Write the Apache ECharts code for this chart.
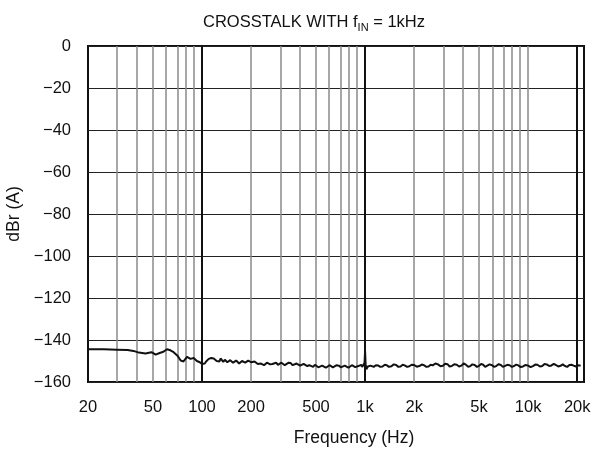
<!DOCTYPE html>
<html>
<head>
<meta charset="utf-8">
<script src="https://cdn.jsdelivr.net/npm/echarts@6/dist/echarts.min.js"></script>
<style>
html,body{margin:0;padding:0;background:#fff;}
#chart{width:591px;height:450px;}
</style>
</head>
<body>
<div id="chart"></div>
<script>
// Frequency (Hz) of trace samples
var freqHz = [20, 25, 30, 35, 38, 41, 45, 49, 52, 55, 58, 61, 64, 67, 71, 74, 77, 81, 85, 89, 93, 97,
  100, 102, 104, 106, 108, 110, 112, 114, 116, 118, 120, 123, 125, 128, 130, 133, 135, 138, 140, 143, 146, 149, 152, 155, 158, 162, 165, 169, 172, 176, 180, 184, 188, 192, 196,
  200, 205, 210, 215, 220, 225, 230, 235, 240, 245, 250, 255, 262, 270, 277, 285, 292, 300, 307, 315, 322, 330, 340, 350, 360, 370, 380, 390, 400, 410, 420, 430, 442, 455, 467, 480, 492,
  505, 517, 530, 545, 560, 575, 590, 605, 620, 635, 650, 670, 690, 710, 730, 750, 770, 790, 810, 830, 850, 870, 890, 910, 930, 945, 960, 975, 985, 992, 1000, 1008,
  1018, 1040, 1060, 1080, 1105, 1130, 1165, 1200, 1240, 1280, 1320, 1360, 1400, 1450, 1500, 1550, 1600, 1650, 1700, 1750, 1810, 1870, 1930, 2000, 2075, 2150, 2225, 2300,
  2375, 2450, 2525, 2600, 2700, 2800, 2900, 3000, 3100, 3200, 3300, 3400, 3520, 3650, 3770, 3900, 4020, 4150, 4270, 4400, 4550, 4700, 4850, 5000, 5150, 5300, 5450, 5600, 5800, 6000,
  6200, 6400, 6600, 6800, 7000, 7200, 7450, 7700, 7950, 8200, 8450, 8700, 9000, 9300, 9650, 10000, 10350, 10700, 11050, 11400, 11800, 12200, 12600, 13000, 13450, 13900, 14350, 14800,
  15300, 15800, 16300, 16800, 17350, 17900, 18450, 19000, 19600, 20200, 21000];
// Crosstalk level dBr (A)
var crosstalkDb = [-144.4, -144.4, -144.6, -144.8, -145.2, -146.0, -146.4, -145.8, -147.0, -146.2, -145.6, -144.4, -144.9, -145.8, -147.6, -149.8, -150.2, -148.0, -149.0, -148.6, -150.0, -150.6,
  -151.4, -150.6, -151.2, -150.2, -149.8, -149.0, -148.2, -148.6, -147.8, -148.8, -149.2, -150.0, -149.6, -150.2, -148.8, -149.6, -150.4, -149.4, -149.6, -150.6, -150.6, -149.6, -149.8, -150.8, -150.8, -149.8, -150.2, -151.2, -151.0, -150.0, -149.9, -150.8, -150.8, -149.8, -150.2,
  -150.6, -151.2, -150.2, -150.4, -151.4, -152.2, -151.2, -151.0, -152.0, -151.8, -150.8, -150.6, -151.6, -151.4, -150.6, -150.8, -151.8, -151.6, -150.8, -150.9, -152.0, -151.8, -150.8, -151.0, -152.0, -152.0, -151.2, -151.4, -152.2, -152.4, -151.4, -151.6, -152.4, -152.0, -152.6, -152.8, -151.8,
  -152.2, -153.0, -153.0, -152.2, -152.3, -153.2, -152.8, -152.0, -152.0, -153.0, -152.8, -152.0, -152.2, -153.0, -153.2, -152.2, -152.4, -153.2, -152.9, -152.0, -152.0, -152.9, -153.4, -152.4, -152.2, -151.8, -152.8, -153.4, -153.6, -151.0, -145.3, -151.5,
  -154.0, -152.6, -151.8, -152.2, -153.0, -152.8, -152.0, -152.1, -152.8, -152.6, -151.8, -152.0, -152.8, -152.5, -151.6, -151.9, -152.8, -152.6, -151.8, -152.1, -152.8, -152.5, -151.8, -151.9, -152.7, -152.4, -151.7, -152.0,
  -152.8, -152.6, -151.8, -152.1, -151.2, -151.6, -152.5, -152.3, -151.3, -151.5, -152.6, -152.4, -151.6, -151.8, -152.6, -152.2, -151.2, -151.7, -152.7, -152.5, -151.6, -151.9, -152.8, -152.3, -151.4, -151.8, -152.8, -152.4, -151.6, -152.0,
  -152.8, -152.3, -151.5, -151.9, -152.8, -152.5, -151.8, -152.0, -152.8, -152.4, -151.7, -152.1, -152.9, -152.6, -151.9, -152.2, -152.9, -152.4, -151.7, -151.8, -152.6, -152.4, -151.4, -151.6, -152.4, -152.1, -151.4, -151.9,
  -152.6, -152.3, -151.6, -152.4, -152.8, -151.9, -151.8, -152.2, -152.6, -152.0, -152.2];

var xTickValues = [20, 50, 100, 200, 500, 1000, 2000, 5000, 10000, 20000];
var xTickLabels = ['20', '50', '100', '200', '500', '1k', '2k', '5k', '10k', '20k'];
var minorGridHz = [30, 40, 50, 60, 70, 80, 90, 200, 300, 400, 500, 600, 700, 800, 900, 2000, 3000, 4000, 5000, 6000, 7000, 8000, 9000, 10000];
var majorGridHz = [100, 1000, 20000];

var L = Math.log10;
var seriesData = freqHz.map(function (f, i) { return [L(f), crosstalkDb[i]]; });
var labelMap = {};
xTickValues.forEach(function (v, i) { labelMap[L(v).toFixed(6)] = xTickLabels[i]; });

var gridLines = [];
minorGridHz.forEach(function (f) {
  gridLines.push({ xAxis: L(f), lineStyle: { color: '#8a8a8a', width: 1.5, type: 'solid' } });
});
majorGridHz.forEach(function (f) {
  gridLines.push({ xAxis: L(f), lineStyle: { color: '#111', width: 2, type: 'solid' } });
});

var font = '"Liberation Sans", Arial, Helvetica, sans-serif';
var chart = echarts.init(document.getElementById('chart'), null, { renderer: 'canvas' });
chart.setOption({
  animation: false,
  backgroundColor: '#fff',
  title: {
    text: '{a|CROSSTALK WITH f}{s|IN}{a| = 1kHz}',
    left: 309, top: 7, textAlign: 'center',
    textStyle: {
      fontWeight: 'normal',
      rich: {
        a: { fontFamily: font, fontSize: 16.5, color: '#111', fontWeight: 'normal' },
        s: { fontFamily: font, fontSize: 11, color: '#111', fontWeight: 'normal', padding: [10, 0, 0, 0] }
      }
    }
  },
  grid: { left: 88, right: 7, top: 46, bottom: 68, containLabel: false, outerBoundsMode: 'none', show: true, borderColor: '#111', borderWidth: 2, backgroundColor: 'transparent' },
  xAxis: {
    type: 'value',
    min: L(20), max: L(22000),
    name: 'Frequency (Hz)', nameLocation: 'middle', nameGap: 47,
    nameTextStyle: { fontFamily: font, fontSize: 17.5, color: '#111', padding: [0, 0, 0, 36] },
    axisLine: { show: false },
    axisTick: { show: false },
    splitLine: { show: false },
    axisLabel: {
      customValues: xTickValues.map(L),
      formatter: function (v) { return labelMap[v.toFixed(6)] || ''; },
      fontFamily: font, fontSize: 16.5, color: '#111', margin: 17
    }
  },
  yAxis: {
    type: 'value', min: -160, max: 0, interval: 20,
    name: 'dBr (A)', nameLocation: 'middle', nameGap: 61, nameRotate: 90,
    nameTextStyle: { fontFamily: font, fontSize: 17.5, color: '#111' },
    axisLine: { show: false },
    axisTick: { show: false },
    splitLine: { show: true, lineStyle: { color: '#222', width: 1 } },
    axisLabel: {
      formatter: function (v) { return String(v).replace('-', '\u2212'); },
      fontFamily: font, fontSize: 16.5, color: '#111', margin: 17
    }
  },
  series: [{
    type: 'line',
    data: seriesData,
    showSymbol: false,
    lineStyle: { color: '#111', width: 2 },
    z: 5,
    markLine: {
      silent: true, symbol: ['none', 'none'], label: { show: false },
      animation: false,
      data: gridLines,
      z: 1
    }
  }]
});
</script>
</body>
</html>
